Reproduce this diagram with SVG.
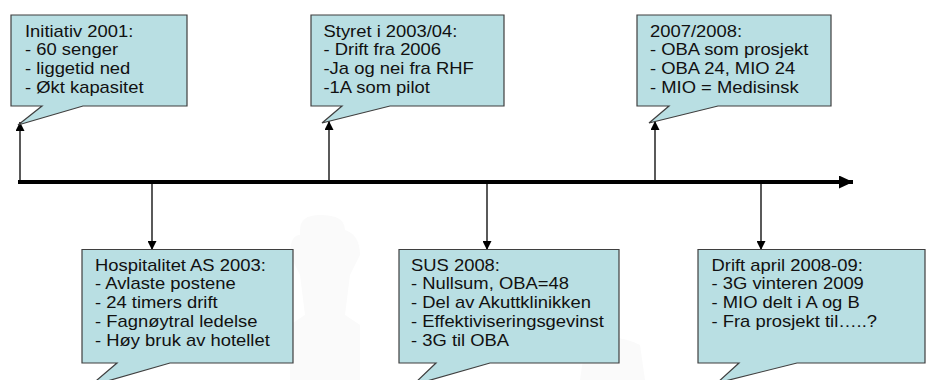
<svg xmlns="http://www.w3.org/2000/svg" width="927" height="380" viewBox="0 0 927 380">
<style>
.box{fill:#B9DFE3;stroke:#3F3F3F;stroke-width:1.2}
.t{font-family:"Liberation Sans",Arial,sans-serif;font-size:16px;fill:#111}
.c{stroke:#000;stroke-width:1.3;fill:none}
.wm{fill:#FAFAFA}
</style>
<defs>
<marker id="ah" viewBox="0 0 10 10" refX="10" refY="5" markerWidth="9" markerHeight="9" markerUnits="userSpaceOnUse" orient="auto">
<path d="M0,0 L10,5 L0,10 Z" fill="#000"/>
</marker>
<marker id="big" viewBox="0 0 10 10" refX="10" refY="5" markerWidth="14" markerHeight="13" markerUnits="userSpaceOnUse" orient="auto" preserveAspectRatio="none">
<path d="M0,0 L10,5 L0,10 Z" fill="#000"/>
</marker>
</defs>
<rect width="927" height="380" fill="#fff"/>
<g id="watermark">
<path class="wm" d="M300,230 q0,-15 20,-15 q25,0 25,15 q15,5 15,25 l-10,20 l-5,40 l15,10 l0,55 l-70,0 l0,-55 l15,-10 l-5,-40 l-10,-20 q0,-20 10,-20 z"/>
<path class="wm" d="M585,345 q25,-15 55,0 l5,35 l-65,0 z"/>
</g>
<g id="connectors">
<line x1="18" y1="182" x2="853" y2="182" stroke="#000" stroke-width="4" marker-end="url(#big)"/>
<line class="c" x1="20" y1="182" x2="20" y2="122" marker-end="url(#ah)"/>
<line class="c" x1="329" y1="182" x2="329" y2="121" marker-end="url(#ah)"/>
<line class="c" x1="655" y1="182" x2="655" y2="121" marker-end="url(#ah)"/>
<line class="c" x1="152" y1="182" x2="152" y2="250" marker-end="url(#ah)"/>
<line class="c" x1="487" y1="182" x2="487" y2="250" marker-end="url(#ah)"/>
<line class="c" x1="761" y1="182" x2="761" y2="250" marker-end="url(#ah)"/>
</g>
<g id="n1">
<path class="box" d="M11,15 H187 V106 H83 L18,125 L42,106 H11 Z"/>
<g transform="translate(25,36.5) scale(1.15,1)"><text class="t" x="0" y="0"><tspan x="0">Initiativ 2001:</tspan><tspan x="0" dy="19">- 60 senger</tspan><tspan x="0" dy="19">- liggetid ned</tspan><tspan x="0" dy="19">- Økt kapasitet</tspan></text></g>
</g>
<g id="n2">
<path class="box" d="M311,15 H504 V106 H390 L322,123 L342,106 H311 Z"/>
<g transform="translate(323.5,36.5) scale(1.15,1)"><text class="t" x="0" y="0"><tspan x="0">Styret i 2003/04:</tspan><tspan x="0" dy="19">- Drift fra 2006</tspan><tspan x="0" dy="19">-Ja og nei fra RHF</tspan><tspan x="0" dy="19">-1A som pilot</tspan></text></g>
</g>
<g id="n3">
<path class="box" d="M637,15 H831 V106 H718 L649,123 L669,106 H637 Z"/>
<g transform="translate(650,36.5) scale(1.15,1)"><text class="t" x="0" y="0"><tspan x="0">2007/2008:</tspan><tspan x="0" dy="19">- OBA som prosjekt</tspan><tspan x="0" dy="19">- OBA 24, MIO 24</tspan><tspan x="0" dy="19">- MIO = Medisinsk</tspan></text></g>
</g>
<g id="n4">
<path class="box" d="M82,249.5 H293 V363 H170 L90,386 L117,363 H82 Z"/>
<g transform="translate(95,270.5) scale(1.15,1)"><text class="t" x="0" y="0"><tspan x="0">Hospitalitet AS 2003:</tspan><tspan x="0" dy="19">- Avlaste postene</tspan><tspan x="0" dy="19">- 24 timers drift</tspan><tspan x="0" dy="19">- Fagnøytral ledelse</tspan><tspan x="0" dy="19">- Høy bruk av hotellet</tspan></text></g>
</g>
<g id="n5">
<path class="box" d="M399,249.5 H619 V363 H490 L413,385 L436,363 H399 Z"/>
<g transform="translate(411,270.5) scale(1.15,1)"><text class="t" x="0" y="0"><tspan x="0">SUS 2008:</tspan><tspan x="0" dy="19">- Nullsum, OBA=48</tspan><tspan x="0" dy="19">- Del av Akuttklinikken</tspan><tspan x="0" dy="19">- Effektiviseringsgevinst</tspan><tspan x="0" dy="19">- 3G til OBA</tspan></text></g>
</g>
<g id="n6">
<path class="box" d="M698,249.5 H925 V363 H797 L717,383 L739,363 H698 Z"/>
<g transform="translate(711.5,270.5) scale(1.15,1)"><text class="t" x="0" y="0"><tspan x="0">Drift april 2008-09:</tspan><tspan x="0" dy="19">- 3G vinteren 2009</tspan><tspan x="0" dy="19">- MIO delt i A og B</tspan><tspan x="0" dy="19">- Fra prosjekt til…..?</tspan></text></g>
</g>
</svg>
